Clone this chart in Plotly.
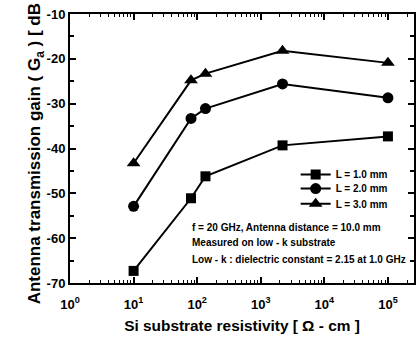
import plotly.graph_objects as go

resistivity = [10, 80, 135, 2200, 100000]
gain_L1 = [-67.3, -51.1, -46.2, -39.3, -37.3]
gain_L2 = [-52.9, -33.3, -31.1, -25.6, -28.7]
gain_L3 = [-43.3, -24.8, -23.3, -18.2, -20.9]
series_names = ["L = 1.0 mm", "L = 2.0 mm", "L = 3.0 mm"]
x_tickvals = [1, 10, 100, 1000, 10000, 100000]
x_ticktext = ["10<sup>0</sup>", "10<sup>1</sup>", "10<sup>2</sup>", "10<sup>3</sup>", "10<sup>4</sup>", "10<sup>5</sup>"]
x_minor_vals = [m * 10 ** d for d in range(0, 6) for m in range(2, 10)]
y_tickvals = [-10, -20, -30, -40, -50, -60, -70]
y_ticktext = ["-10", "-20", "-30", "-40", "-50", "-60", "-70"]
notes = ["f = 20 GHz, Antenna distance = 10.0 mm",
         "Measured on low - k substrate",
         "Low - k : dielectric constant = 2.15 at 1.0 GHz"]

FONT = "Liberation Sans, Arial, sans-serif"
def bfont(size):
    return dict(family=FONT, size=size, color="black", weight="bold")
def b(t):
    return "<b>" + t + "</b>"

fig = go.Figure()
legend_ids = ["legend", "legend2", "legend3"]
for ys, name, sym, sz, lg in [(gain_L1, series_names[0], "square", 10, legend_ids[0]),
                              (gain_L2, series_names[1], "circle", 11, legend_ids[1]),
                              (gain_L3, series_names[2], "triangle-up", 12, legend_ids[2])]:
    fig.add_trace(go.Scatter(x=resistivity, y=ys, name=b(name), mode="lines+markers",
                             line=dict(color="black", width=2), legend=lg,
                             marker=dict(symbol=sym, size=sz, color="black")))

axis_common = dict(showline=True, linecolor="black", linewidth=2, mirror="ticks",
                   ticks="inside", tickcolor="black", tickwidth=1.5, ticklen=6,
                   showgrid=False, zeroline=False, tickfont=bfont(13))
fig.update_xaxes(type="log", range=[0, 5.41], tickvals=x_tickvals,
                 ticktext=[b(t) for t in x_ticktext], ticklabelstandoff=8,
                 minor=dict(ticks="inside", ticklen=3, tickcolor="black", tickwidth=1,
                            tickvals=x_minor_vals, showgrid=False),
                 title=dict(text=b("Si substrate resistivity [ Ω - cm ]"),
                            font=bfont(15.4), standoff=10),
                 **axis_common)
fig.update_yaxes(range=[-70, -10], tickvals=y_tickvals, ticktext=[b(t) for t in y_ticktext],
                 minor=dict(ticks="inside", ticklen=4, tickcolor="black", tickwidth=1.5,
                            dtick=5, showgrid=False),
                 title=dict(text=b("Antenna transmission gain ( G<sub>a</sub> ) [ dB ]"),
                            font=bfont(17), standoff=0),
                 **axis_common)

for i, t in enumerate(notes):
    fig.add_annotation(x=0.348, y=[0.208, 0.149, 0.089][i], xref="paper", yref="paper",
                       xanchor="left", yanchor="middle", showarrow=False,
                       text=b(t), font=bfont(10))

legend_style = dict(x=0.656, xanchor="left", yanchor="middle",
                    bgcolor="rgba(0,0,0,0)", font=bfont(10), itemwidth=30)
fig.update_layout(width=416, height=342, margin=dict(l=70, r=0, t=14, b=59),
                  plot_bgcolor="white", paper_bgcolor="white",
                  font=dict(family=FONT, size=12, color="black"),
                  showlegend=True,
                  legend=dict(y=0.403, **legend_style),
                  legend2=dict(y=0.351, **legend_style),
                  legend3=dict(y=0.295, **legend_style))
fig.write_html("out.html")
